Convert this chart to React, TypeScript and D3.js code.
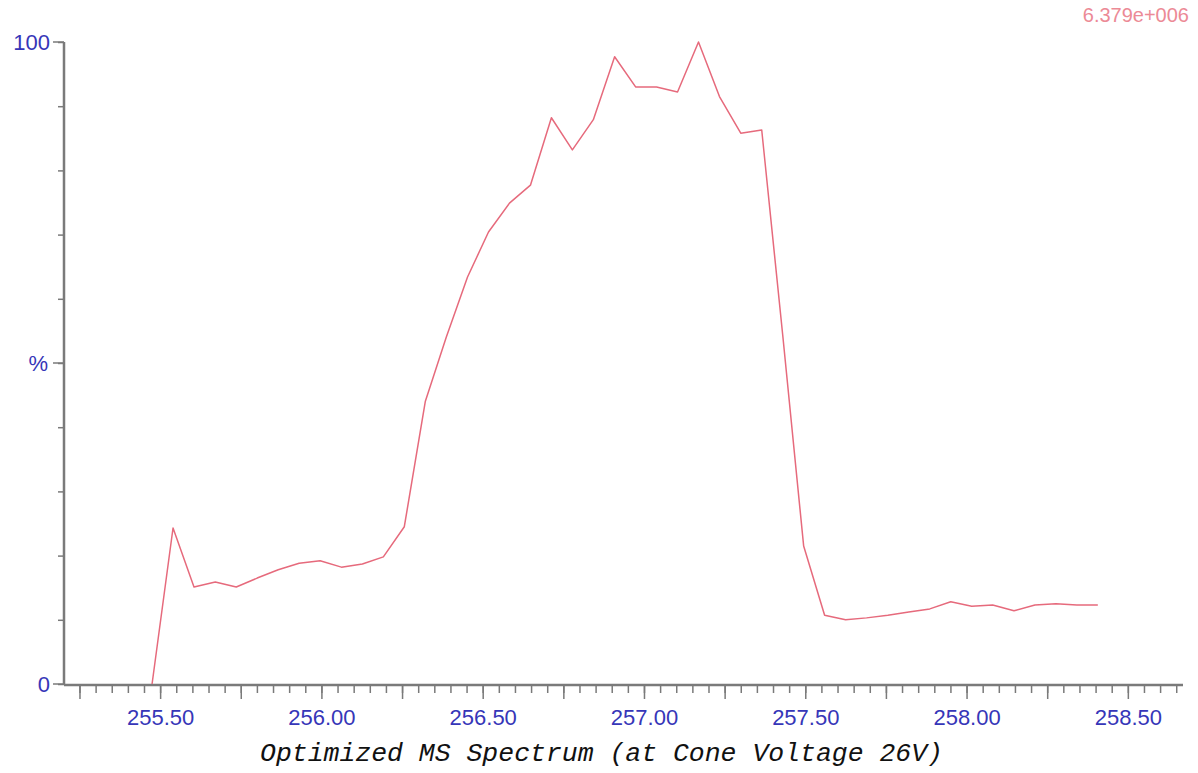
import { useEffect, useRef } from 'react'
import * as d3 from 'd3'

// m/z values
const mz = [
  255.475, 255.54, 255.605, 255.671, 255.736, 255.801, 255.866, 255.931, 255.996, 256.062,
  256.127, 256.192, 256.257, 256.322, 256.387, 256.453, 256.518, 256.583, 256.648, 256.713,
  256.778, 256.843, 256.909, 256.974, 257.039, 257.104, 257.169, 257.234, 257.3, 257.365,
  257.43, 257.495, 257.56, 257.625, 257.69, 257.756, 257.821, 257.886, 257.951, 258.016,
  258.081, 258.147, 258.212, 258.277, 258.342, 258.407,
]
// relative intensity, %
const intensity = [
  0, 24.3, 15.1, 15.9, 15.1, 16.5, 17.8, 18.8, 19.2, 18.2,
  18.7, 19.8, 24.5, 44.0, 54.0, 63.4, 70.4, 74.9, 77.7, 88.2,
  83.2, 87.9, 97.7, 93.0, 93.0, 92.2, 100, 91.5, 85.8, 86.3,
  54.4, 21.5, 10.7, 10.0, 10.3, 10.7, 11.2, 11.7, 12.8, 12.1,
  12.3, 11.4, 12.3, 12.5, 12.3, 12.3,
]

const xLabelTicks = [255.5, 256.0, 256.5, 257.0, 257.5, 258.0, 258.5]
const xMidTicks = [255.25, 255.5, 255.75, 256.0, 256.25, 256.5, 256.75, 257.0, 257.25, 257.5, 257.75, 258.0, 258.25, 258.5]
const yTicks = [0, 10, 20, 30, 40, 50, 60, 70, 80, 90, 100]
const yLabels = [
  { v: 100, text: '100' },
  { v: 50, text: '%' },
  { v: 0, text: '0' },
]
const maxIntensity = '6.379e+006'
const title = 'Optimized MS Spectrum (at Cone Voltage 26V)'

const W = 1198
const H = 773

export default function App() {
  const svgRef = useRef<SVGSVGElement>(null)

  useEffect(() => {
    if (!svgRef.current) return
    const svg = d3.select(svgRef.current)
    svg.selectAll('*').remove()

    const left = 64
    const right = 1183
    const top = 42
    const bottom = 684
    const axisColor = '#7a7a7a'
    const labelColor = '#3636b8'
    const sans = '"Liberation Sans", Arial, sans-serif'

    const x = d3.scaleLinear().domain([255.202, 258.671]).range([left, right])
    const y = d3.scaleLinear().domain([0, 100]).range([bottom, top])

    // minor ticks every 0.05
    const minor = d3.range(0, 69).map((i) => +(255.25 + i * 0.05).toFixed(2))
    svg
      .append('g')
      .attr('transform', `translate(0,${bottom + 1})`)
      .call(d3.axisBottom(x).tickValues(minor).tickSize(8).tickFormat(() => ''))
      .call((g) => g.select('.domain').remove())
      .call((g) => g.selectAll('line').attr('stroke', axisColor).attr('stroke-width', 1.5))

    svg
      .append('g')
      .attr('transform', `translate(0,${bottom + 1})`)
      .call(
        d3
          .axisBottom(x)
          .tickValues(xMidTicks)
          .tickSize(14)
          .tickPadding(10)
          .tickFormat((d) => (xLabelTicks.includes(+d) ? (+d).toFixed(2) : ''))
      )
      .call((g) => g.select('.domain').remove())
      .call((g) => g.selectAll('line').attr('stroke', axisColor).attr('stroke-width', 1.5))
      .call((g) =>
        g
          .selectAll('text')
          .attr('fill', labelColor)
          .style('font-family', sans)
          .style('font-size', '22px')
      )

    // y ticks
    svg
      .append('g')
      .attr('transform', `translate(${left},0)`)
      .call(d3.axisLeft(y).tickValues(yTicks).tickSize(6).tickFormat(() => ''))
      .call((g) => g.select('.domain').remove())
      .call((g) => g.selectAll('line').attr('stroke', axisColor).attr('stroke-width', 1.5))

    svg
      .append('g')
      .selectAll('line')
      .data(yLabels)
      .enter()
      .append('line')
      .attr('x1', left - 11)
      .attr('x2', left)
      .attr('y1', (d) => y(d.v))
      .attr('y2', (d) => y(d.v))
      .attr('stroke', axisColor)
      .attr('stroke-width', 1.5)

    svg
      .append('g')
      .selectAll('text')
      .data(yLabels)
      .enter()
      .append('text')
      .attr('x', (d) => (d.text === '%' ? 48 : 50))
      .attr('y', (d) => y(d.v))
      .attr('dy', '0.35em')
      .attr('text-anchor', 'end')
      .attr('fill', labelColor)
      .style('font-family', sans)
      .style('font-size', '22px')
      .text((d) => d.text)

    // axis lines
    svg
      .append('line')
      .attr('x1', left)
      .attr('x2', left)
      .attr('y1', top)
      .attr('y2', bottom + 1)
      .attr('stroke', axisColor)
      .attr('stroke-width', 2.5)
    svg
      .append('line')
      .attr('x1', left)
      .attr('x2', right)
      .attr('y1', bottom + 1)
      .attr('y2', bottom + 1)
      .attr('stroke', axisColor)
      .attr('stroke-width', 2.5)

    // spectrum trace
    const points = mz.map((m, i) => [m, intensity[i]] as [number, number])
    const line = d3
      .line<[number, number]>()
      .x((d) => x(d[0]))
      .y((d) => y(d[1]))
    svg
      .append('path')
      .datum(points)
      .attr('d', line)
      .attr('fill', 'none')
      .attr('stroke', '#e66a7c')
      .attr('stroke-width', 1.5)
      .attr('stroke-linejoin', 'round')

    // max intensity label
    svg
      .append('text')
      .attr('x', 1189)
      .attr('y', 15)
      .attr('dy', '0.35em')
      .attr('text-anchor', 'end')
      .attr('fill', '#ec8a96')
      .style('font-family', sans)
      .style('font-size', '20px')
      .text(maxIntensity)

    // title
    svg
      .append('text')
      .attr('x', 260)
      .attr('y', 761)
      .attr('textLength', 683)
      .attr('lengthAdjust', 'spacingAndGlyphs')
      .attr('fill', '#111')
      .style('font-family', '"Liberation Mono", "DejaVu Sans Mono", monospace')
      .style('font-style', 'italic')
      .style('font-size', '25px')
      .text(title)
  }, [])

  return (
    <svg
      ref={svgRef}
      width={W}
      height={H}
      style={{ position: 'absolute', left: 0, top: 0, background: '#fff' }}
    />
  )
}
